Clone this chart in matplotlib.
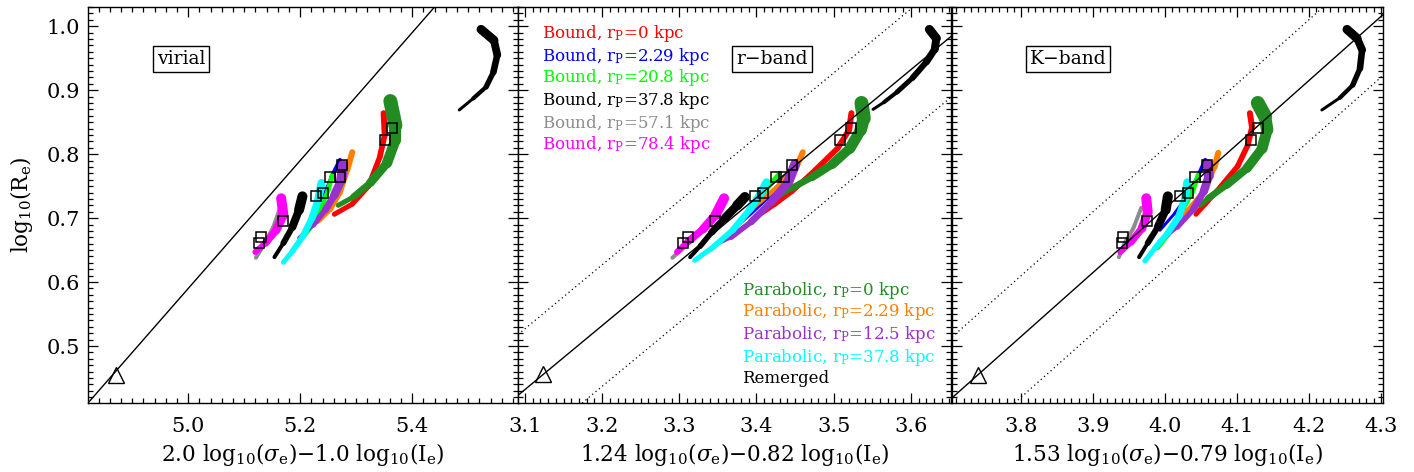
import numpy as np
import matplotlib
matplotlib.use('Agg')
import matplotlib.pyplot as plt
from matplotlib.collections import LineCollection
from matplotlib.ticker import MultipleLocator

plt.rcParams['font.family'] = ['DejaVu Serif']
plt.rcParams['mathtext.fontset'] = 'dejavuserif'

# ---------------- data ----------------
# virial panel
red_x_vir = [5.349, 5.351, 5.342, 5.322, 5.293, 5.261]
red_y_vir = [0.864, 0.830, 0.795, 0.750, 0.722, 0.706]
dgreen_x_vir = [5.361, 5.370, 5.370, 5.355, 5.325, 5.295, 5.268]
dgreen_y_vir = [0.883, 0.845, 0.822, 0.786, 0.755, 0.733, 0.720]
orange_x_vir = [5.293, 5.284, 5.271, 5.254, 5.232]
orange_y_vir = [0.803, 0.775, 0.739, 0.713, 0.694]
purple_x_vir = [5.277, 5.273, 5.261, 5.245, 5.223, 5.198]
purple_y_vir = [0.783, 0.759, 0.736, 0.713, 0.689, 0.669]
blue_x_vir = [5.271, 5.255, 5.236, 5.211]
blue_y_vir = [0.791, 0.763, 0.720, 0.681]
lime_x_vir = [5.257, 5.250, 5.236, 5.218, 5.193]
lime_y_vir = [0.766, 0.744, 0.713, 0.684, 0.656]
cyan_x_vir = [5.238, 5.232, 5.221, 5.205, 5.186, 5.170]
cyan_y_vir = [0.755, 0.728, 0.700, 0.672, 0.648, 0.631]
black_x_vir = [5.204, 5.198, 5.186, 5.170, 5.154]
black_y_vir = [0.734, 0.713, 0.686, 0.661, 0.639]
magenta_x_vir = [5.166, 5.170, 5.157, 5.138, 5.120]
magenta_y_vir = [0.731, 0.705, 0.681, 0.661, 0.647]
gray_x_vir = [5.164, 5.152, 5.138, 5.121]
gray_y_vir = [0.716, 0.686, 0.663, 0.638]
remerged_x_vir = [5.523, 5.546, 5.552, 5.545, 5.532, 5.509, 5.484]
remerged_y_vir = [0.995, 0.978, 0.955, 0.928, 0.905, 0.887, 0.869]

# r-band panel
red_x_r = [3.523, 3.520, 3.505, 3.476, 3.446, 3.424, 3.407]
red_y_r = [0.864, 0.838, 0.809, 0.775, 0.742, 0.722, 0.708]
dgreen_x_r = [3.536, 3.539, 3.535, 3.521, 3.498, 3.472, 3.446, 3.420]
dgreen_y_r = [0.880, 0.856, 0.838, 0.809, 0.784, 0.764, 0.747, 0.728]
orange_x_r = [3.460, 3.451, 3.430, 3.404, 3.379]
orange_y_r = [0.803, 0.778, 0.752, 0.725, 0.697]
purple_x_r = [3.450, 3.441, 3.419, 3.393, 3.367, 3.347]
purple_y_r = [0.784, 0.756, 0.725, 0.694, 0.670, 0.659]
blue_x_r = [3.452, 3.438, 3.417, 3.391, 3.366]
blue_y_r = [0.789, 0.766, 0.734, 0.705, 0.678]
lime_x_r = [3.428, 3.412, 3.386, 3.360, 3.340]
lime_y_r = [0.767, 0.744, 0.705, 0.670, 0.650]
cyan_x_r = [3.413, 3.404, 3.391, 3.369, 3.344, 3.320]
cyan_y_r = [0.756, 0.736, 0.713, 0.681, 0.655, 0.634]
black_x_r = [3.385, 3.375, 3.359, 3.342, 3.327, 3.314]
black_y_r = [0.733, 0.720, 0.700, 0.678, 0.656, 0.639]
magenta_x_r = [3.358, 3.347, 3.331, 3.311, 3.297]
magenta_y_r = [0.731, 0.705, 0.683, 0.663, 0.647]
gray_x_r = [3.353, 3.337, 3.320, 3.305, 3.291]
gray_y_r = [0.720, 0.694, 0.670, 0.653, 0.638]
remerged_x_r = [3.624, 3.633, 3.631, 3.620, 3.602, 3.582, 3.565, 3.551]
remerged_y_r = [0.995, 0.981, 0.964, 0.944, 0.919, 0.897, 0.881, 0.870]

# K-band panel
red_x_k = [4.118, 4.121, 4.115, 4.101, 4.078, 4.056, 4.043]
red_y_k = [0.864, 0.842, 0.814, 0.781, 0.750, 0.722, 0.706]
dgreen_x_k = [4.129, 4.139, 4.142, 4.135, 4.114, 4.086, 4.060, 4.049]
dgreen_y_k = [0.880, 0.859, 0.838, 0.809, 0.778, 0.752, 0.731, 0.720]
orange_x_k = [4.074, 4.069, 4.053, 4.035, 4.017]
orange_y_k = [0.802, 0.780, 0.741, 0.717, 0.697]
purple_x_k = [4.060, 4.061, 4.054, 4.039, 4.017, 3.992]
purple_y_k = [0.784, 0.766, 0.742, 0.713, 0.686, 0.663]
blue_x_k = [4.056, 4.046, 4.032, 4.014, 3.993]
blue_y_k = [0.791, 0.766, 0.736, 0.708, 0.681]
lime_x_k = [4.046, 4.038, 4.021, 4.004, 3.990]
lime_y_k = [0.767, 0.741, 0.705, 0.673, 0.653]
cyan_x_k = [4.031, 4.028, 4.019, 4.004, 3.986, 3.972]
cyan_y_k = [0.756, 0.731, 0.702, 0.677, 0.653, 0.633]
black_x_k = [4.004, 4.001, 3.990, 3.976, 3.964]
black_y_k = [0.734, 0.713, 0.686, 0.661, 0.639]
magenta_x_k = [3.974, 3.976, 3.968, 3.953, 3.938]
magenta_y_k = [0.731, 0.709, 0.684, 0.663, 0.647]
gray_x_k = [3.967, 3.956, 3.944, 3.936]
gray_y_k = [0.716, 0.684, 0.661, 0.639]
remerged_x_k = [4.253, 4.267, 4.274, 4.271, 4.261, 4.243, 4.218]
remerged_y_k = [0.995, 0.981, 0.963, 0.934, 0.908, 0.888, 0.869]

# end-point squares (same log Re in every panel)
square_y = [0.822, 0.841, 0.783, 0.764, 0.764, 0.734, 0.739, 0.695, 0.670, 0.661]
square_x_vir = [5.352, 5.364, 5.275, 5.271, 5.254, 5.229, 5.241, 5.170, 5.130, 5.127]
square_x_r = [3.508, 3.523, 3.446, 3.435, 3.425, 3.398, 3.408, 3.346, 3.311, 3.305]
square_x_k = [4.119, 4.129, 4.058, 4.056, 4.042, 4.021, 4.032, 3.975, 3.942, 3.940]

# progenitor triangle
triangle_x = [4.871, 3.124, 3.740]
triangle_y = [0.455, 0.456, 0.455]

# fundamental-plane relation y = x + c, with scatter band
line_intercept = [-4.41, -2.668, -3.285]
band_offset = 0.095

panel_names = ['virial', 'r\u2212band', 'K\u2212band']
x_labels = [r'2.0 $\mathrm{log_{10}}(\sigma_\mathrm{e})$$-$1.0 $\mathrm{log_{10}(I_e)}$',
            r'1.24 $\mathrm{log_{10}}(\sigma_\mathrm{e})$$-$0.82 $\mathrm{log_{10}(I_e)}$',
            r'1.53 $\mathrm{log_{10}}(\sigma_\mathrm{e})$$-$0.79 $\mathrm{log_{10}(I_e)}$']

bound_labels = [r'Bound, $\mathrm{r_P}$=0 kpc', r'Bound, $\mathrm{r_P}$=2.29 kpc',
                r'Bound, $\mathrm{r_P}$=20.8 kpc', r'Bound, $\mathrm{r_P}$=37.8 kpc',
                r'Bound, $\mathrm{r_P}$=57.1 kpc', r'Bound, $\mathrm{r_P}$=78.4 kpc']
parab_labels = [r'Parabolic, $\mathrm{r_P}$=0 kpc', r'Parabolic, $\mathrm{r_P}$=2.29 kpc',
                r'Parabolic, $\mathrm{r_P}$=12.5 kpc', r'Parabolic, $\mathrm{r_P}$=37.8 kpc',
                'Remerged']

# ---------------- styles ----------------
colors = {'red': '#ff0000', 'blue': '#0000ff', 'lime': '#00ff00', 'black': '#000000',
          'gray': '#8c8c8c', 'magenta': '#ff00ff', 'dgreen': '#228b22',
          'orange': '#ff8000', 'purple': '#9932cc', 'cyan': '#00ffff', 'remerged': '#000000'}
bound_colors = ['red', 'blue', 'lime', 'black', 'gray', 'magenta']
parab_colors = ['dgreen', 'orange', 'purple', 'cyan', 'remerged']
# pixel widths (start, end) of each band
widths = {'red': (6, 5), 'dgreen': (14, 5), 'orange': (6, 4), 'purple': (10, 4),
          'blue': (4, 3), 'lime': (5, 4), 'cyan': (8, 5), 'black': (10, 4),
          'magenta': (10, 6), 'gray': (4, 4), 'remerged': (9, 3)}
draw_order = ['red', 'blue', 'lime', 'gray', 'magenta', 'black',
              'dgreen', 'orange', 'purple', 'cyan', 'remerged']

g = globals()
panel_keys = ['vir', 'r', 'k']
xlims = [(4.821, 5.589), (3.091, 3.652), (3.704, 4.303)]
ylim = (0.411, 1.030)
major = [0.2, 0.1, 0.1]
minor = [0.02, 0.01, 0.01]
square_xs = [square_x_vir, square_x_r, square_x_k]

W, H = 1414, 472
fig = plt.figure(figsize=(W / 100, H / 100), dpi=100)
ax_px = [(88, 430), (518, 433), (952, 431)]
top_px, bot_px = 7, 403

PX = 0.72


def draw_band(ax, xs, ys, color, w):
    pts = np.column_stack([xs, ys])
    segs = [pts[i:i + 2] for i in range(len(pts) - 1)]
    lws = np.linspace(w[0], w[1], len(segs)) * PX
    lc = LineCollection(segs, colors=color, linewidths=lws,
                        capstyle='round', joinstyle='round', zorder=2)
    ax.add_collection(lc)


for i, key in enumerate(panel_keys):
    x0, w = ax_px[i]
    ax = fig.add_axes([x0 / W, 1 - bot_px / H, w / W, (bot_px - top_px) / H])
    ax.set_xlim(*xlims[i])
    ax.set_ylim(*ylim)

    for name in draw_order:
        xs = g[f'{name}_x_{key}']
        ys = g[f'{name}_y_{key}']
        draw_band(ax, xs, ys, colors[name], widths[name])

    c = line_intercept[i]
    ax.axline((0.0, c), slope=1.0, color='black', lw=1.0, zorder=3)
    if i > 0:
        for s in (band_offset, -band_offset):
            ax.axline((0.0, c + s), slope=1.0, color='black', lw=0.9,
                      ls=(0, (1, 2.5)), zorder=3)

    ax.plot(square_xs[i], square_y, ls='none', marker='s', ms=7, mfc='none',
            mec='black', mew=1.1, zorder=4)
    ax.plot([triangle_x[i]], [triangle_y[i]], ls='none', marker='^', ms=12,
            mfc='none', mec='black', mew=1.0, zorder=4)

    ax.xaxis.set_major_locator(MultipleLocator(major[i]))
    ax.xaxis.set_minor_locator(MultipleLocator(minor[i]))
    ax.yaxis.set_major_locator(MultipleLocator(0.1))
    ax.yaxis.set_minor_locator(MultipleLocator(0.01))
    ax.tick_params(which='both', direction='in', top=True, right=True, width=0.9)
    ax.tick_params(which='major', length=7.2, labelsize=15, pad=10)
    ax.tick_params(which='minor', length=3.6)
    ax.tick_params(axis='y', pad=6)
    if i > 0:
        ax.tick_params(labelleft=False)
    for sp in ax.spines.values():
        sp.set_linewidth(1.0)

    box_x = [0.216, 0.587, 0.269][i]
    ax.text(box_x, 0.869, panel_names[i], transform=ax.transAxes, ha='center',
            va='center', fontsize=13.5, zorder=5,
            bbox=dict(boxstyle='square,pad=0.22', fc='white', ec='black', lw=1.0))

    ax.text(0.5, -0.13, x_labels[i], transform=ax.transAxes, ha='center',
            va='center', fontsize=15.5)

    if i == 0:
        ax.set_ylabel(r'$\mathrm{log_{10}(R_e)}$', fontsize=15.5, labelpad=8)
    if i == 1:
        ys_b = [0.934, 0.876, 0.821, 0.765, 0.707, 0.652]
        for lab, cn, yy in zip(bound_labels, bound_colors, ys_b):
            ax.text(0.0554, yy, lab, color=colors[cn], transform=ax.transAxes,
                    ha='left', va='center', fontsize=12)
        ys_p = [0.285, 0.230, 0.172, 0.116, 0.061]
        for lab, cn, yy in zip(parab_labels, parab_colors, ys_p):
            ax.text(0.517, yy, lab, color=colors[cn], transform=ax.transAxes,
                    ha='left', va='center', fontsize=12)

fig.savefig('out.png', dpi=100)
